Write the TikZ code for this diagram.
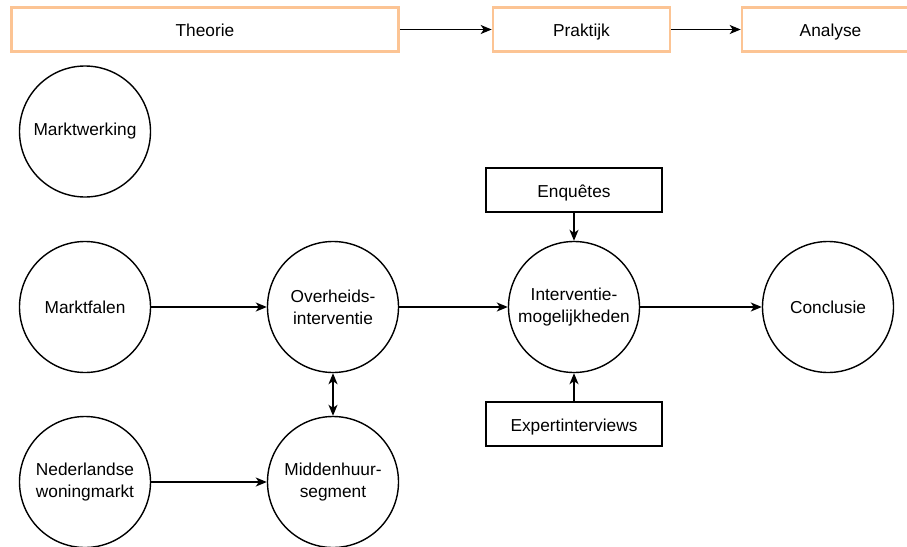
\documentclass[tikz,border=0pt]{standalone}
\usepackage{fontspec}
\setmainfont{Liberation Sans}
\usetikzlibrary{arrows.meta}
\definecolor{fasekleur}{RGB}{252,196,148}

\begin{document}
\begin{tikzpicture}[x=1pt, y=-1pt, every node/.style={font=\fontsize{17.3}{22}\selectfont}, >={Stealth[length=11pt, width=9pt, inset=3pt]}, line width=1.4pt,
	fase/.style={draw=fasekleur, line width=2.6pt, minimum height=44pt, inner sep=0pt, text height=16pt, text depth=1.6pt},
	blok/.style={draw, minimum width=176pt, minimum height=44pt, inner sep=0pt, text height=16pt, text depth=1.6pt},
	cirkel/.style={draw, circle, minimum size=131pt, inner sep=0pt, align=center}]
	\useasboundingbox (0,0) rectangle (907,546);
	% fasen
	\node[fase, minimum width=387pt] (theorie) at (205,29.5) {Theorie};
	\node[fase, minimum width=177pt] (praktijk) at (581.5,29.5) {Praktijk};
	\node[fase, minimum width=177pt] (analyse) at (830.5,29.5) {Analyse};
	\draw[->] (theorie) -- (praktijk);
	\draw[->] (praktijk) -- (analyse);
	% theorie
	\node[cirkel] (marktwerking) at (85,131.5) {Marktwerking};
	\node[cirkel] (marktfalen) at (85,307) {Marktfalen};
	\node[cirkel] (woningmarkt) at (85,482) {Nederlandse\\woningmarkt};
	\node[cirkel] (overheid) at (333,307) {Overheids-\\interventie};
	\node[cirkel] (middenhuur) at (333,482) {Middenhuur-\\segment};
	% praktijk en analyse
	\node[cirkel] (mogelijkheden) at (574,307) {Interventie-\\mogelijkheden};
	\node[blok] (enquetes) at (574,190) {Enquêtes};
	\node[blok] (interviews) at (574,424) {Expertinterviews};
	\node[cirkel] (conclusie) at (828,307) {Conclusie};
	\draw[->] (marktfalen) -- (overheid);
	\draw[->] (woningmarkt) -- (middenhuur);
	\draw[<->] (overheid) -- (middenhuur);
	\draw[->] (overheid) -- (mogelijkheden);
	\draw[->] (enquetes) -- (mogelijkheden);
	\draw[->] (interviews) -- (mogelijkheden);
	\draw[->] (mogelijkheden) -- (conclusie);
\end{tikzpicture}
\end{document}
